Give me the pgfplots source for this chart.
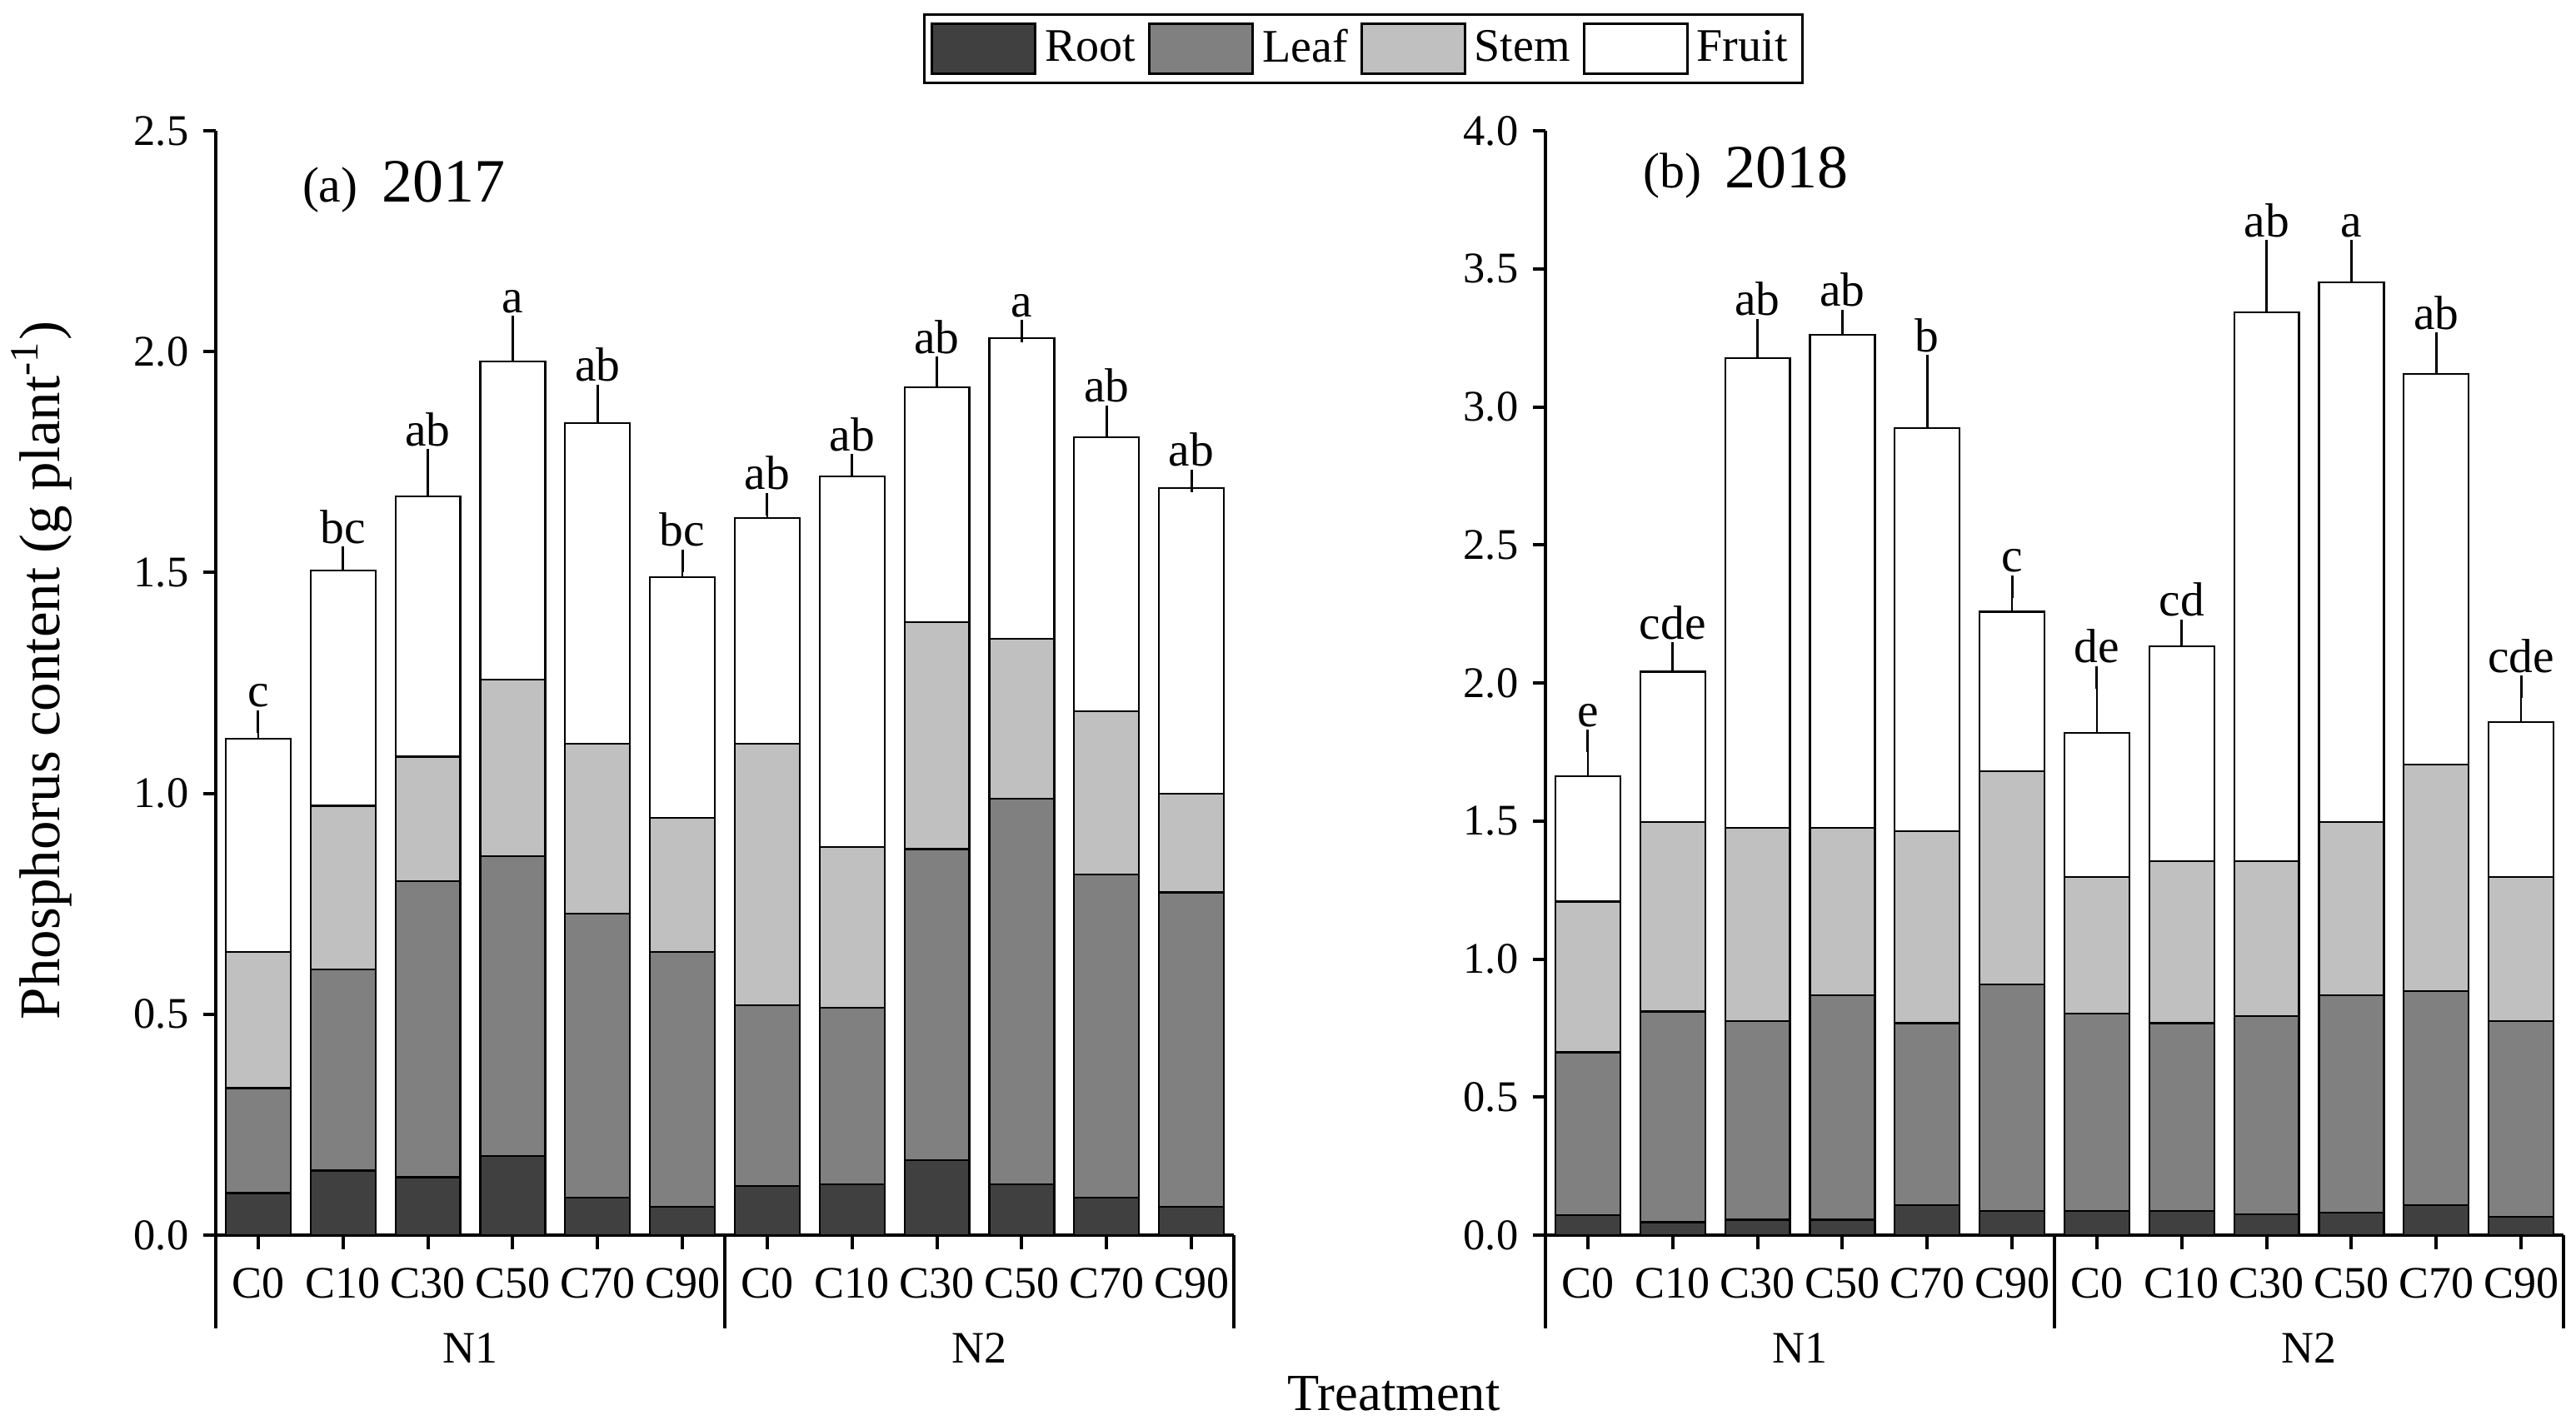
\documentclass[border=0pt]{standalone}
\usepackage{fontspec}
\setmainfont{Liberation Serif}
\usepackage{pgfplots}
\pgfplotsset{compat=1.18}
\usepackage{pgfplotstable}

\definecolor{rootc}{HTML}{404040}
\definecolor{leafc}{HTML}{808080}
\definecolor{stemc}{HTML}{C0C0C0}

% segment heights (g plant^-1), err = upper error of the whole bar
\pgfplotstableread{
x  root  leaf  stem  fruit err
0  0.095 0.238 0.308 0.483 0.039
1  0.146 0.456 0.370 0.533 0.028
2  0.131 0.670 0.282 0.589 0.082
3  0.179 0.679 0.400 0.720 0.078
4  0.085 0.643 0.384 0.726 0.062
5  0.064 0.577 0.304 0.544 0.038
6  0.111 0.409 0.592 0.512 0.031
7  0.115 0.400 0.363 0.840 0.025
8  0.170 0.704 0.514 0.532 0.043
9  0.115 0.873 0.362 0.680 0.016
10 0.085 0.731 0.370 0.620 0.047
11 0.064 0.712 0.223 0.692 0.017
}\pa

\pgfplotstableread{
x  root  leaf  stem  fruit err
0  0.072 0.590 0.546 0.455 0.127
1  0.047 0.763 0.687 0.544 0.066
2  0.056 0.719 0.700 1.702 0.101
3  0.056 0.812 0.607 1.786 0.050
4  0.108 0.660 0.696 1.458 0.225
5  0.088 0.820 0.773 0.577 0.091
6  0.088 0.714 0.495 0.523 0.201
7  0.088 0.680 0.587 0.777 0.058
8  0.075 0.719 0.561 1.987 0.221
9  0.082 0.786 0.629 1.955 0.111
10 0.108 0.776 0.820 1.415 0.109
11 0.067 0.708 0.522 0.562 0.126
}\pb

\pgfplotsset{
  panel/.style={
    scale only axis, width=244.4pt, height=265.2pt,
    ybar stacked, bar width=0.765,
    xmin=-0.5, xmax=11.5, ymin=0,
    axis x line*=bottom, axis y line*=left,
    axis line style={line width=0.8pt},
    tick align=outside,
    major tick length=3pt,
    xtick pos=bottom, ytick pos=left,
    tick style={draw=black, line width=0.8pt},
    xtick={0,...,11},
    xticklabels={C0,C10,C30,C50,C70,C90,C0,C10,C30,C50,C70,C90},
    x tick label style={font=\fontsize{10.8}{12}\selectfont, anchor=base, yshift=-12pt},
    y tick label style={font=\fontsize{10.5}{12}\selectfont},
    yticklabel style={/pgf/number format/.cd, fixed, fixed zerofill, precision=1},
    /pgf/number format/assume math mode=true,
    clip=false,
  },
  seg/.style={draw=black, line width=0.45pt, fill=#1,
    legend image code/.code={\draw[##1, draw=black, line width=0.6pt] (0pt,-6pt) rectangle (24.8pt,6pt);}},
  errb/.style={error bars/.cd, y dir=plus, y explicit,
    error bar style={line width=0.55pt, black},
    error mark=-,
    error mark options={black, line width=0.6pt, mark size=2.7pt}},
}
\tikzset{
  lab/.style={anchor=base, yshift=3.5pt, inner sep=0pt, font=\fontsize{11.5}{12}\selectfont},
  grp/.style={anchor=base, yshift=-30.6pt, inner sep=0pt, font=\fontsize{10.8}{12}\selectfont},
  sep/.style={line width=0.8pt},
}
% group separators, category ticks and N1/N2 labels under each panel
\newcommand\groupaxis{%
  \pgfplotsinvokeforeach{0,...,11}{\draw[sep] (axis cs:##1,0) -- ++(0pt,-3.4pt);}
  \draw[sep] (axis cs:-0.5,0) -- ++(0pt,-22.4pt);
  \draw[sep] (axis cs:5.5,0) -- ++(0pt,-22.4pt);
  \draw[sep] (axis cs:11.5,0) -- ++(0pt,-22.4pt);
  \node[grp] at (axis cs:2.5,0) {N1};
  \node[grp] at (axis cs:8.5,0) {N2};
}

\begin{document}
\begin{tikzpicture}
\useasboundingbox (0,0) rectangle (618.4pt,-342.2pt);

% (a) 2017
\begin{axis}[panel, at={(51.8pt,-296.6pt)}, anchor=south west,
    ymax=2.5, ytick={0,0.5,...,2.5},
    legend columns=4,
    legend style={at={(1.1272,1.1063)}, anchor=north, draw=black, line width=0.6pt,
      inner sep=1.5pt, font=\fontsize{11.2}{13}\selectfont,
      /tikz/every odd column/.append style={column sep=0pt},
      /tikz/every even column/.append style={column sep=1pt}}]
  \addplot[seg=rootc] table[x=x, y=root]{\pa};
  \addlegendentry{Root}
  \addplot[seg=leafc] table[x=x, y=leaf]{\pa};
  \addlegendentry{Leaf}
  \addplot[seg=stemc] table[x=x, y=stem]{\pa};
  \addlegendentry{Stem}
  \addplot[seg=white, errb] table[x=x, y=fruit, y error=err]{\pa};
  \addlegendentry{Fruit}

  \node[lab] at (axis cs:0,1.163) {c};
  \node[lab] at (axis cs:1,1.533) {bc};
  \node[lab] at (axis cs:2,1.754) {ab};
  \node[lab] at (axis cs:3,2.056) {a};
  \node[lab] at (axis cs:4,1.900) {ab};
  \node[lab] at (axis cs:5,1.527) {bc};
  \node[lab] at (axis cs:6,1.655) {ab};
  \node[lab] at (axis cs:7,1.743) {ab};
  \node[lab] at (axis cs:8,1.963) {ab};
  \node[lab] at (axis cs:9,2.046) {a};
  \node[lab] at (axis cs:10,1.853) {ab};
  \node[lab] at (axis cs:11,1.708) {ab};
  \groupaxis
\end{axis}

% (b) 2018
\begin{axis}[panel, at={(371pt,-296.6pt)}, anchor=south west,
    ymax=4.0, ytick={0,0.5,...,4.0}]
  \addplot[seg=rootc] table[x=x, y=root]{\pb};
  \addplot[seg=leafc] table[x=x, y=leaf]{\pb};
  \addplot[seg=stemc] table[x=x, y=stem]{\pb};
  \addplot[seg=white, errb] table[x=x, y=fruit, y error=err]{\pb};

  \node[lab] at (axis cs:0,1.790) {e};
  \node[lab] at (axis cs:1,2.107) {cde};
  \node[lab] at (axis cs:2,3.278) {ab};
  \node[lab] at (axis cs:3,3.311) {ab};
  \node[lab] at (axis cs:4,3.147) {b};
  \node[lab] at (axis cs:5,2.349) {c};
  \node[lab] at (axis cs:6,2.021) {de};
  \node[lab] at (axis cs:7,2.190) {cd};
  \node[lab] at (axis cs:8,3.563) {ab};
  \node[lab] at (axis cs:9,3.563) {a};
  \node[lab] at (axis cs:10,3.228) {ab};
  \node[lab] at (axis cs:11,1.985) {cde};
  \groupaxis
\end{axis}

\node[anchor=base west, inner sep=0pt] at (72.4pt,-48.6pt)
  {\fontsize{12}{12}\selectfont(a)\hspace{5.8pt}\fontsize{14.8}{15}\selectfont 2017};
\node[anchor=base west, inner sep=0pt] at (394.2pt,-45.2pt)
  {\fontsize{12}{12}\selectfont(b)\hspace{5.8pt}\fontsize{14.8}{15}\selectfont 2018};

\node[rotate=90, inner sep=0pt, font=\fontsize{13.8}{15}\selectfont] at (10pt,-161pt)
  {Phosphorus content (g plant\textsuperscript{-1})};
\node[anchor=base, inner sep=0pt, font=\fontsize{12.5}{13}\selectfont] at (334.6pt,-338.6pt) {Treatment};
\end{tikzpicture}
\end{document}
